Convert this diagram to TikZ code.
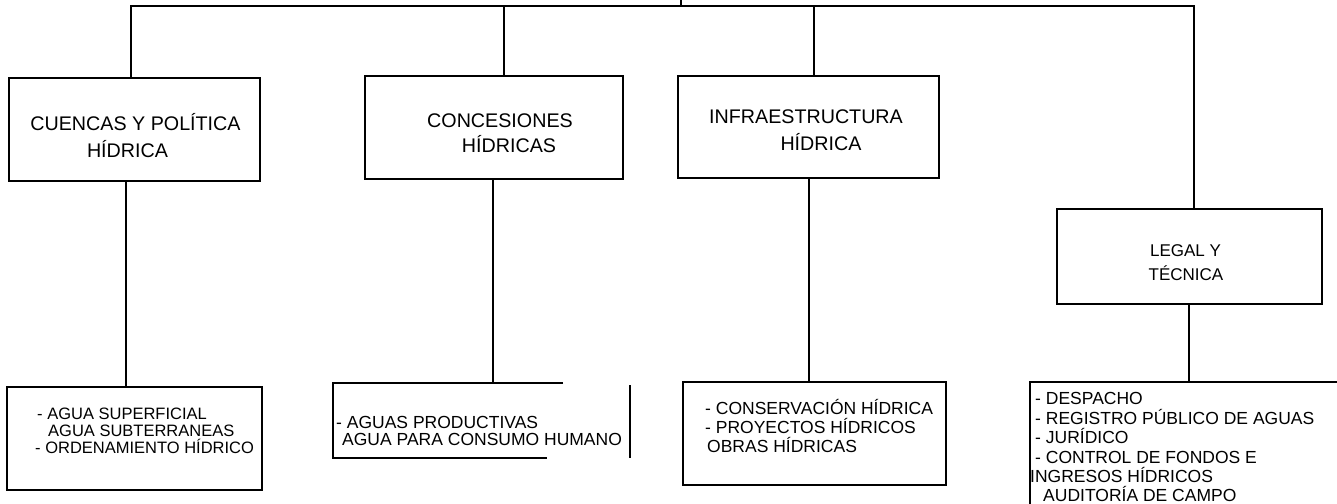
\documentclass[tikz,border=0pt]{standalone}
\usepackage{fontspec}
\setmainfont{Liberation Sans}
\usetikzlibrary{calc}
\begin{document}
\begin{tikzpicture}[x=1pt,y=-1pt,
  box/.style={draw, line width=1.3pt, inner sep=0pt, outer sep=0pt},
  ghost/.style={inner sep=0pt, outer sep=0pt},
  conn/.style={line width=1.3pt, line join=miter},
  head/.style={font=\fontsize{19.7}{23}\selectfont, anchor=base, inner sep=0pt},
  subhead/.style={font=\fontsize{17}{20}\selectfont, anchor=base, inner sep=0pt},
  item/.style={font=\fontsize{17.5}{20}\selectfont, anchor=base west, inner sep=0pt},
  smallitem/.style={item, font=\fontsize{16.5}{20}\selectfont}]
\useasboundingbox (0,0) rectangle (1337,503);

% top row boxes
\node[box, minimum width=251pt, minimum height=103pt] (b1) at (134.5,129.5) {};
\node[box, minimum width=258pt, minimum height=103pt] (b2) at (494,127.5) {};
\node[box, minimum width=261pt, minimum height=102pt] (b3) at (808.5,127) {};
\node[box, minimum width=265pt, minimum height=95pt] (b4) at (1189.5,256.5) {};

% bottom row boxes
\node[box, minimum width=255pt, minimum height=103pt] (c1) at (134.5,438.5) {};
\node[ghost, minimum width=297pt, minimum height=75pt] (c2) at (481.5,420.5) {};
\node[box, minimum width=263pt, minimum height=103pt] (c3) at (814.5,433.5) {};
\node[box, minimum width=370pt, minimum height=178pt] (c4) at (1215,471) {};

% partial outline of c2
\draw[conn] ($(c2.north west)+(230,0)$) -- (c2.north west) -- (c2.south west) -- ($(c2.south west)+(214,0)$);
\draw[conn] ([yshift=-2pt]c2.north east) -- (c2.south east);

% bus at top
\coordinate (root) at (681,0);
\coordinate (bus) at (681,6);
\draw[conn] (root) -- (bus);
\draw[conn] ([xshift=-3.5pt]b1.north) -- ([xshift=-3.5pt]b1.north |- bus) -- ([xshift=4.5pt]b4.north |- bus) -- ([xshift=4.5pt]b4.north);
\draw[conn] ([xshift=10pt]b2.north) -- ([xshift=10pt]b2.north |- bus);
\draw[conn] ([xshift=5.5pt]b3.north) -- ([xshift=5.5pt]b3.north |- bus);

% down connectors
\draw[conn] ([xshift=-8.5pt]b1.south) -- ([xshift=-8.5pt]b1.south |- c1.north);
\draw[conn] ([xshift=-1pt]b2.south) -- ([xshift=-1pt]b2.south |- c2.north);
\draw[conn] ([xshift=0.5pt]b3.south) -- ([xshift=0.5pt]b3.south |- c3.north);
\draw[conn] ([xshift=-0.5pt]b4.south) -- ([xshift=-0.5pt]b4.south |- c4.north);

% headings
\node[head] (h1a) at (135.5,130) {CUENCAS Y POLÍTICA};
\node[head] (h1b) at (127.5,157) {HÍDRICA};
\node[head] (h2a) at (500,127) {CONCESIONES};
\node[head] (h2b) at (509,152) {HÍDRICAS};
\node[head] (h3a) at (806,123) {INFRAESTRUCTURA};
\node[head] (h3b) at (821,150) {HÍDRICA};
\node[subhead] (h4a) at (1185.5,256) {LEGAL Y};
\node[subhead] (h4b) at (1186,280) {TÉCNICA};

% lists
\node[smallitem] (i1a) at (37,419) {- AGUA SUPERFICIAL};
\node[smallitem] (i1b) at (48,436) {AGUA SUBTERRANEAS};
\node[smallitem] (i1c) at (35,453) {- ORDENAMIENTO HÍDRICO};

\node[item] (i2a) at (336,428) {- AGUAS PRODUCTIVAS};
\node[item] (i2b) at (342,445) {AGUA PARA CONSUMO HUMANO};

\node[item] (i3a) at (705,414) {- CONSERVACIÓN HÍDRICA};
\node[item] (i3b) at (705,433) {- PROYECTOS HÍDRICOS};
\node[item] (i3c) at (707,452) {OBRAS HÍDRICAS};

\node[item] (i4a) at (1035,404) {- DESPACHO};
\node[item] (i4b) at (1035,424) {- REGISTRO PÚBLICO DE AGUAS};
\node[item] (i4c) at (1035,443) {- JURÍDICO};
\node[item] (i4d) at (1035,463) {- CONTROL DE FONDOS E};
\node[item] (i4e) at (1030,482) {INGRESOS HÍDRICOS};
\node[item] (i4f) at (1043,501) {AUDITORÍA DE CAMPO};
\end{tikzpicture}
\end{document}
